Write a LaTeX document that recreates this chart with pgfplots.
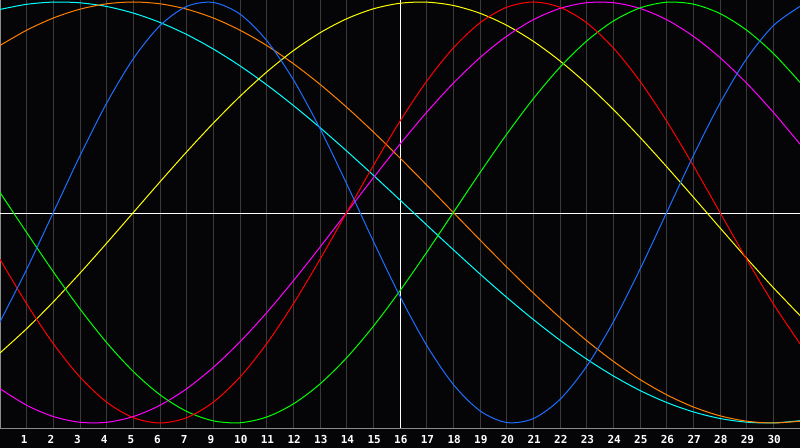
\documentclass[border=0pt]{standalone}
\usepackage{fontspec}
\usepackage{pgfplots}
\usepackage{pgfplotstable}
\pgfplotsset{compat=1.18}
\newfontfamily\labelfont{DejaVu Sans Mono}

\definecolor{bg}{HTML}{050508}
\definecolor{gridgray}{HTML}{3A3A3A}
\definecolor{framegray}{HTML}{8C8C8C}
\definecolor{cphys}{HTML}{1E6EFF}
\definecolor{cemo}{HTML}{FF0000}
\definecolor{cintel}{HTML}{00FF00}
\definecolor{cintu}{HTML}{FF00FF}
\definecolor{caest}{HTML}{FFFF00}
\definecolor{caware}{HTML}{FF8000}
\definecolor{cspir}{HTML}{00FFFF}

% day  physical emotional intellectual intuitive aesthetic awareness spiritual
\pgfplotstableread{
p  phys    emo     intel   intu    aest    aware   spir
0  -0.5196 -0.2225  0.0951 -0.8372 -0.6673  0.7934  0.9646
1  -0.2698 -0.4339 -0.0951 -0.9158 -0.5518  0.8660  0.9890
2   0.0000 -0.6235 -0.2817 -0.9694 -0.4245  0.9239  0.9996
3   0.2698 -0.7818 -0.4582 -0.9966 -0.2881  0.9659  0.9961
4   0.5196 -0.9010 -0.6182 -0.9966 -0.1456  0.9914  0.9786
5   0.7307 -0.9749 -0.7558 -0.9694  0.0000  1.0000  0.9473
6   0.8878 -1.0000 -0.8660 -0.9158  0.1456  0.9914  0.9028
7   0.9790 -0.9749 -0.9450 -0.8372  0.2881  0.9659  0.8456
8   0.9977 -0.9010 -0.9898 -0.7357  0.4245  0.9239  0.7765
9   0.9423 -0.7818 -0.9989 -0.6142  0.5518  0.8660  0.6965
10  0.8170 -0.6235 -0.9718 -0.4760  0.6673  0.7934  0.6068
11  0.6311 -0.4339 -0.9096 -0.3247  0.7687  0.7071  0.5085
12  0.3984 -0.2225 -0.8146 -0.1646  0.8536  0.6088  0.4031
13  0.1362  0.0000 -0.6901  0.0000  0.9203  0.5000  0.2921
14 -0.1362  0.2225 -0.5406  0.1646  0.9675  0.3827  0.1769
15 -0.3984  0.4339 -0.3717  0.3247  0.9940  0.2588  0.0593
16 -0.6311  0.6235 -0.1893  0.4760  0.9993  0.1305 -0.0593
17 -0.8170  0.7818  0.0000  0.6142  0.9834  0.0000 -0.1769
18 -0.9423  0.9010  0.1893  0.7357  0.9464 -0.1305 -0.2921
19 -0.9977  0.9749  0.3717  0.8372  0.8893 -0.2588 -0.4031
20 -0.9790  1.0000  0.5406  0.9158  0.8133 -0.3827 -0.5085
21 -0.8878  0.9749  0.6901  0.9694  0.7199 -0.5000 -0.6068
22 -0.7307  0.9010  0.8146  0.9966  0.6112 -0.6088 -0.6965
23 -0.5196  0.7818  0.9096  0.9966  0.4894 -0.7071 -0.7765
24 -0.2698  0.6235  0.9718  0.9694  0.3572 -0.7934 -0.8456
25  0.0000  0.4339  0.9989  0.9158  0.2174 -0.8660 -0.9028
26  0.2698  0.2225  0.9898  0.8372  0.0730 -0.9239 -0.9473
27  0.5196  0.0000  0.9450  0.7357 -0.0730 -0.9659 -0.9786
28  0.7307 -0.2225  0.8660  0.6142 -0.2174 -0.9914 -0.9961
29  0.8878 -0.4339  0.7558  0.4760 -0.3572 -1.0000 -0.9996
30  0.9790 -0.6235  0.6182  0.3247 -0.4894 -0.9914 -0.9890
}\bio

\begin{document}
\begin{tikzpicture}
\fill[bg] (0,-20bp) rectangle (800bp,428bp);
\begin{axis}[
    at={(0,0)}, anchor=south west,
    scale only axis, width=800bp, height=428bp,
    xmin=0, xmax=30, ymin=-1.0238, ymax=1.0095,
    axis line style={draw=framegray, line width=1bp},
    xtick={1,...,29},
    % the source skips the 8th
    xticklabels={1,2,3,4,5,6,7,9,10,11,12,13,14,15,16,17,18,19,20,21,22,23,24,25,26,27,28,29,30},
    ytick=\empty,
    xmajorgrids,
    major grid style={gridgray, line width=1bp},
    major tick length=0pt,
    xticklabel style={anchor=north west, inner sep=0pt, xshift=-6bp, yshift=-7bp,
        text=white, font=\labelfont\bfseries\fontsize{11bp}{11bp}\selectfont},
    every axis plot/.append style={line width=1bp, no marks, smooth},
]
\draw[white, line width=1bp] (axis cs:15,-1.0238) -- (axis cs:15,1.0095);
\draw[white, line width=1bp] (axis cs:0,-0.007) -- (axis cs:30,-0.007);
\addplot[cspir]  table[x=p, y=spir]  {\bio};
\addplot[caware] table[x=p, y=aware] {\bio};
\addplot[caest]  table[x=p, y=aest]  {\bio};
\addplot[cintu]  table[x=p, y=intu]  {\bio};
\addplot[cintel] table[x=p, y=intel] {\bio};
\addplot[cemo]   table[x=p, y=emo]   {\bio};
\addplot[cphys]  table[x=p, y=phys]  {\bio};
\end{axis}
\pgfresetboundingbox
\useasboundingbox (0,-20bp) rectangle (800bp,428bp);
\end{tikzpicture}
\end{document}
